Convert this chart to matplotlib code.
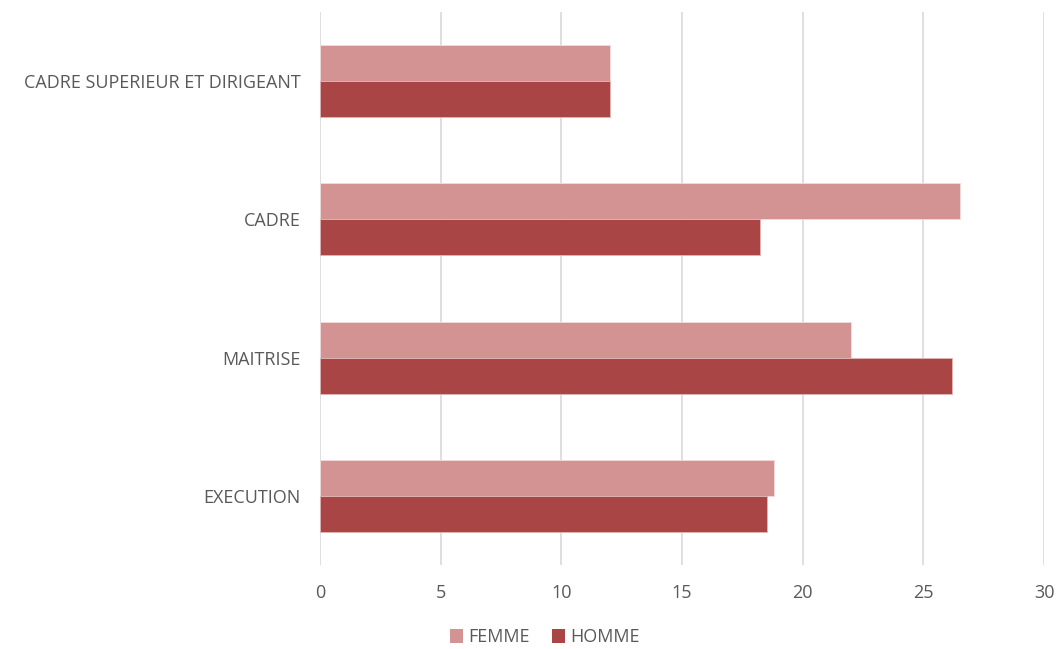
import numpy as np
import matplotlib
matplotlib.use('Agg')
import matplotlib.pyplot as plt
from matplotlib.patches import Patch

plt.rcParams['font.family'] = ['Open Sans', 'DejaVu Sans']

categories = ['EXECUTION', 'MAITRISE', 'CADRE', 'CADRE SUPERIEUR ET DIRIGEANT']
femme = [18.8, 22.0, 26.5, 12.0]
homme = [18.5, 26.2, 18.25, 12.0]

COL_F = '#D39393'
COL_H = '#A94645'
TXT = '#595959'

fig = plt.figure(figsize=(10.58, 6.49), dpi=100)
ax = fig.add_axes([0.3025, 0.1294, 0.6843, 0.8521])

y = np.arange(len(categories))
h = 0.26
ax.barh(y + h / 2, femme, height=h, color=COL_F, edgecolor='#F2DCDC', linewidth=0.6, zorder=3)
ax.barh(y - h / 2, homme, height=h, color=COL_H, edgecolor='#E3B5B5', linewidth=0.6, zorder=3)

ax.set_xlim(0, 30)
ax.set_ylim(-0.5, 3.5)
ax.set_xticks(range(0, 31, 5))
ax.set_yticks(y)
ax.set_yticklabels(categories)
ax.tick_params(axis='both', length=0, colors=TXT, labelsize=13)
ax.tick_params(axis='y', pad=14)
ax.tick_params(axis='x', pad=14)
ax.xaxis.grid(True, color='#D9D9D9', linewidth=1.2, zorder=0)
for s in ax.spines.values():
    s.set_visible(False)

handles = [Patch(facecolor=COL_F, label='FEMME'), Patch(facecolor=COL_H, label='HOMME')]
leg = fig.legend(handles=handles, loc='center', bbox_to_anchor=(0.515, 0.018), ncol=2,
                 frameon=False, fontsize=13, handlelength=0.75, handleheight=0.75,
                 handletextpad=0.3, columnspacing=1.2)
for t in leg.get_texts():
    t.set_color(TXT)

fig.savefig('out.png', dpi=100)
